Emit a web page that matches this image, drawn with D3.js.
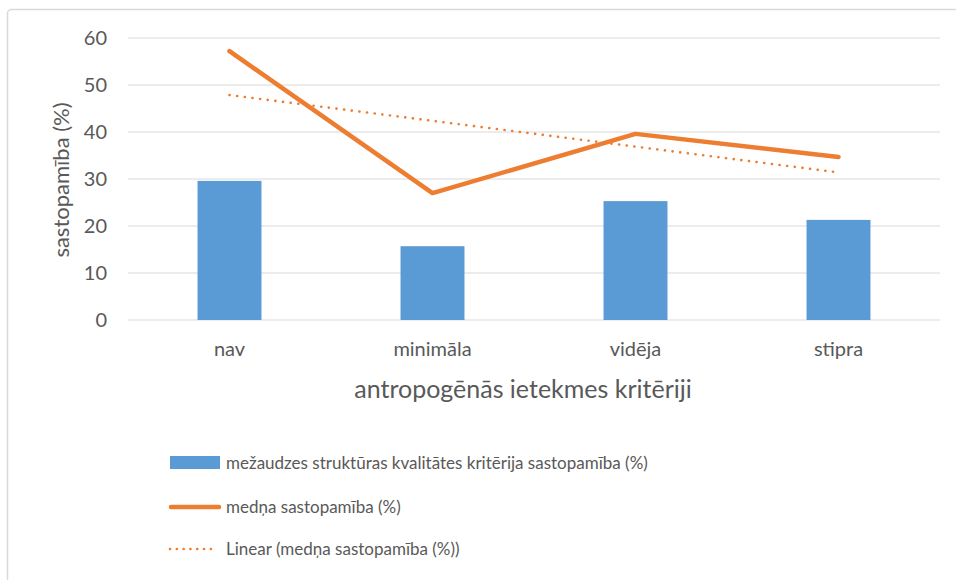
<!DOCTYPE html>
<html><head><meta charset="utf-8">
<script src="https://cdn.jsdelivr.net/npm/d3@7"></script>
<style>body{margin:0;background:#fff;} text{font-family:Lato,"Liberation Sans",sans-serif;fill:#595959;}</style>
</head><body>
<svg id="c" width="956" height="580"></svg>
<script>
const categories = ["nav", "minimāla", "vidēja", "stipra"];
const barValues = [29.6, 15.7, 25.3, 21.3];
const lineValues = [57.2, 27.0, 39.6, 34.7];
const yTicks = [0, 10, 20, 30, 40, 50, 60];
const seriesNames = ["mežaudzes struktūras kvalitātes kritērija sastopamība (%)", "medņa sastopamība (%)", "Linear (medņa sastopamība (%))"];
const xTitle = "antropogēnās ietekmes kritēriji";
const yTitle = "sastopamība (%)";

const svg = d3.select("#c");
svg.append("rect").attr("x",7.5).attr("y",9.5).attr("width",960).attr("height",600).attr("rx",4)
  .attr("fill","#fff").attr("stroke","#d9d9d9").attr("stroke-width",1.5);

const L=128, R=940, T=38, B=320;
const x = d3.scaleBand().domain(categories).range([L,R]).paddingInner(0.685).paddingOuter(0.3425);
const y = d3.scaleLinear().domain([0,60]).range([B,T]);

// gridlines
svg.append("g").selectAll("line").data(yTicks).join("line")
  .attr("x1",L).attr("x2",R).attr("y1",d=>y(d)).attr("y2",d=>y(d))
  .attr("stroke","#d9d9d9").attr("stroke-width",1);

// y axis labels
const yAxis = d3.axisLeft(y).tickValues(yTicks).tickSize(0).tickPadding(0);
const gy = svg.append("g").attr("transform",`translate(${L-21},0)`).call(yAxis);
gy.select(".domain").remove();
gy.selectAll("text").style("font-size","20px").attr("fill","#595959").attr("font-family",null);

// x axis labels
const xAxis = d3.axisBottom(x).tickSize(0).tickPadding(0);
const gx = svg.append("g").attr("transform",`translate(0,${B+22})`).call(xAxis);
gx.select(".domain").remove();
gx.selectAll("text").style("font-size","20px").attr("fill","#595959").attr("font-family",null);

// bars
svg.append("g").selectAll("rect").data(barValues).join("rect")
  .attr("x",(d,i)=>x(categories[i])).attr("width",x.bandwidth())
  .attr("y",d=>y(d)).attr("height",d=>y(0)-y(d)).attr("fill","#5B9BD5");

// line
const cx = (i)=>x(categories[i])+x.bandwidth()/2;
svg.append("path").datum(lineValues)
  .attr("d",d3.line().x((d,i)=>cx(i)).y(d=>y(d)))
  .attr("fill","none").attr("stroke","#ED7D31").attr("stroke-width",4.5).attr("stroke-linecap","round").attr("stroke-linejoin","round");

// linear trendline (least squares on lineValues)
const n = lineValues.length, xs = d3.range(1,n+1);
const mx = d3.mean(xs), my = d3.mean(lineValues);
const slope = d3.sum(xs.map((v,i)=>(v-mx)*(lineValues[i]-my)))/d3.sum(xs.map(v=>(v-mx)*(v-mx)));
const icpt = my - slope*mx;
const trend = xs.map(v=>icpt+slope*v);
svg.append("path").datum(trend)
  .attr("d",d3.line().x((d,i)=>cx(i)).y(d=>y(d)))
  .attr("fill","none").attr("stroke","#ED7D31").attr("stroke-width",2.6).attr("stroke-linecap","round")
  .attr("stroke-dasharray","0.1,7.6");

// axis titles
svg.append("text").attr("x",523).attr("y",398).attr("text-anchor","middle").style("font-size","25px").text(xTitle);
svg.append("text").attr("transform",`translate(69,180) rotate(-90)`).attr("text-anchor","middle").style("font-size","22px").text(yTitle);

// legend
const lg = svg.append("g");
const ly = [463, 507, 549];
lg.append("rect").attr("x",170).attr("y",456).attr("width",50).attr("height",13).attr("fill","#5B9BD5");
lg.append("line").attr("x1",171).attr("x2",219).attr("y1",ly[1]).attr("y2",ly[1]).attr("stroke","#ED7D31").attr("stroke-width",4.5).attr("stroke-linecap","round");
lg.append("line").attr("x1",170).attr("x2",217).attr("y1",ly[2]).attr("y2",ly[2]).attr("stroke","#ED7D31").attr("stroke-width",2.6).attr("stroke-linecap","round").attr("stroke-dasharray","0.1,6.7");
lg.selectAll("text.l").data(seriesNames).join("text").attr("class","l")
  .attr("x",226).attr("y",(d,i)=>ly[i]).attr("dy","0.35em").style("font-size","17px").text(d=>d);
</script>
</body></html>
